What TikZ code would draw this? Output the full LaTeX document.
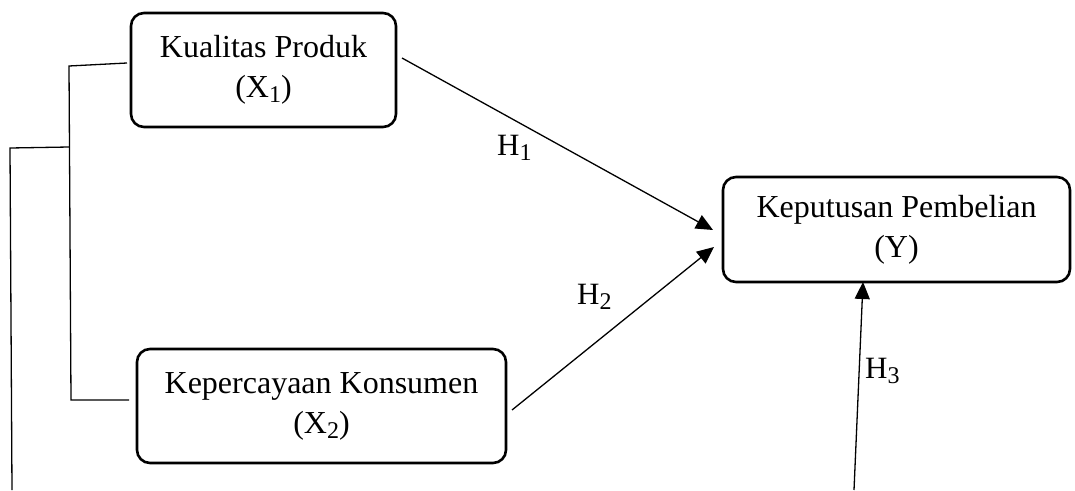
\documentclass[tikz,border=0pt]{standalone}
\usepackage{fontspec}
\setmainfont{Liberation Serif}
\usetikzlibrary{arrows.meta}
\newcommand\sbs[1]{\raisebox{-5pt}{\fontsize{24}{24}\selectfont #1}}
\tikzset{
  box/.style={draw, line width=2.6pt, rounded corners=13pt, inner sep=0pt, align=center, font=\fontsize{32}{40}\selectfont},
  conn/.style={line width=1.3pt, -{Triangle[length=17pt,width=15pt]}},
  brk/.style={line width=1.3pt},
  hyp/.style={font=\fontsize{31}{31}\selectfont, inner sep=0pt, anchor=base west}
}
\begin{document}
\begin{tikzpicture}[x=1pt,y=-1pt]
\useasboundingbox (0,0) rectangle (1075,490);
\node[box, minimum width=265pt, minimum height=114pt] (x1) at (263.5,70) {Kualitas Produk\\(X\sbs{1})};
\node[box, minimum width=347pt, minimum height=105pt] (y) at (896.5,229.5) {Keputusan Pembelian\\(Y)};
\node[box, minimum width=369pt, minimum height=114pt] (x2) at (321.5,406) {Kepercayaan Konsumen\\(X\sbs{2})};
% connector ends
\coordinate (h1s) at (402,58);
\coordinate (h1e) at (713,230);
\coordinate (h2s) at (512,410);
\coordinate (h2e) at (714,247);
\coordinate (h3s) at (854,490);
\coordinate (h3e) at (863,282);
\draw[conn] (h1s) -- (h1e);
\draw[conn] (h2s) -- (h2e);
\draw[conn] (h3s) -- (h3e);
\node[hyp] (l1) at (497,155) {H\sbs{1}};
\node[hyp] (l2) at (577,304) {H\sbs{2}};
\node[hyp] (l3) at (865,378) {H\sbs{3}};
% bracket
\coordinate (b1) at (127,63);
\coordinate (b2) at (69,66);
\coordinate (b3) at (71,400);
\coordinate (b4) at (129,400);
\coordinate (c1) at (69,147);
\coordinate (c2) at (10,148);
\coordinate (c3) at (12,490);
\draw[brk] (b1) -- (b2) -- (b3) -- (b4);
\draw[brk] (c1) -- (c2) -- (c3);
\end{tikzpicture}
\end{document}
